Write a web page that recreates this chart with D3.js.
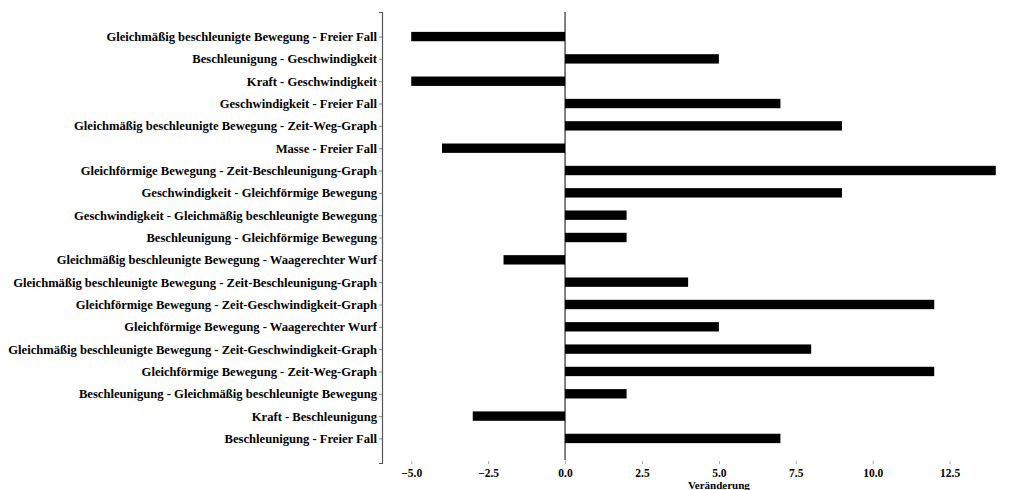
<!DOCTYPE html>
<html>
<head>
<meta charset="utf-8">
<script src="https://cdn.jsdelivr.net/npm/d3@7"></script>
<style>
  html, body { margin: 0; padding: 0; background: #fff; }
  svg { display: block; }
  text { font-family: "Liberation Serif", "Times New Roman", serif; font-weight: bold; fill: #000; }
</style>
</head>
<body>
<svg id="chart" width="1014" height="490"></svg>
<script>
// Paarungen von Begriffen (von oben nach unten)
const categories = [
  "Gleichmäßig beschleunigte Bewegung - Freier Fall",
  "Beschleunigung - Geschwindigkeit",
  "Kraft - Geschwindigkeit",
  "Geschwindigkeit - Freier Fall",
  "Gleichmäßig beschleunigte Bewegung - Zeit-Weg-Graph",
  "Masse - Freier Fall",
  "Gleichförmige Bewegung - Zeit-Beschleunigung-Graph",
  "Geschwindigkeit - Gleichförmige Bewegung",
  "Geschwindigkeit - Gleichmäßig beschleunigte Bewegung",
  "Beschleunigung - Gleichförmige Bewegung",
  "Gleichmäßig beschleunigte Bewegung - Waagerechter Wurf",
  "Gleichmäßig beschleunigte Bewegung - Zeit-Beschleunigung-Graph",
  "Gleichförmige Bewegung - Zeit-Geschwindigkeit-Graph",
  "Gleichförmige Bewegung - Waagerechter Wurf",
  "Gleichmäßig beschleunigte Bewegung - Zeit-Geschwindigkeit-Graph",
  "Gleichförmige Bewegung - Zeit-Weg-Graph",
  "Beschleunigung - Gleichmäßig beschleunigte Bewegung",
  "Kraft - Beschleunigung",
  "Beschleunigung - Freier Fall"
];
// Veränderung je Paarung
const changes = [-5, 5, -5, 7, 9, -4, 14, 9, 2, 2, -2, 4, 12, 5, 8, 12, 2, -3, 7];
const xTicks = [-5, -2.5, 0, 2.5, 5, 7.5, 10, 12.5];
const xLabel = "Veränderung";

const svg = d3.select("#chart");

const x = d3.scaleLinear().domain([-5.95, 14.95]).range([382, 1025]);
const y = d3.scaleLinear().domain([-1.1, categories.length - 1 + 1.1]).range([12, 463]);
const barH = 0.42 * (y(1) - y(0));

// Balken
svg.append("g")
  .selectAll("rect")
  .data(changes)
  .join("rect")
  .attr("x", d => Math.min(x(0), x(d)))
  .attr("width", d => Math.abs(x(d) - x(0)))
  .attr("y", (d, i) => y(i) - barH / 2)
  .attr("height", barH)
  .attr("fill", "#000");

// Nulllinie
svg.append("line")
  .attr("x1", x(0)).attr("x2", x(0))
  .attr("y1", y.range()[0]).attr("y2", y.range()[1] - 3)
  .attr("stroke", "#000").attr("stroke-width", 1);

// y-Achse mit Kategorienbeschriftung
const yAxis = d3.axisLeft(y)
  .tickValues(d3.range(categories.length))
  .tickFormat(i => categories[i])
  .tickSize(3)
  .tickPadding(2);
const gy = svg.append("g")
  .attr("transform", `translate(${x.range()[0]},0)`)
  .call(yAxis);
gy.select(".domain").attr("stroke", "#555").attr("stroke-width", 1.2);
gy.selectAll(".tick line").attr("stroke", "#888");
gy.selectAll("text").style("font-size", "12.6px");

// x-Achse ohne Linie
const xAxis = d3.axisBottom(x)
  .tickValues(xTicks)
  .tickFormat(d => d3.format(".1f")(d).replace("-", "\u2212"))
  .tickSize(3)
  .tickPadding(5);
const gx = svg.append("g")
  .attr("transform", `translate(0,461)`)
  .call(xAxis);
gx.select(".domain").remove();
gx.selectAll(".tick line").attr("stroke", "#aaa");
gx.selectAll("text").style("font-size", "11.5px");

// Achsentitel
svg.append("text")
  .attr("x", x(5))
  .attr("y", 489)
  .attr("text-anchor", "middle")
  .style("font-size", "11px")
  .text(xLabel);
</script>
</body>
</html>
